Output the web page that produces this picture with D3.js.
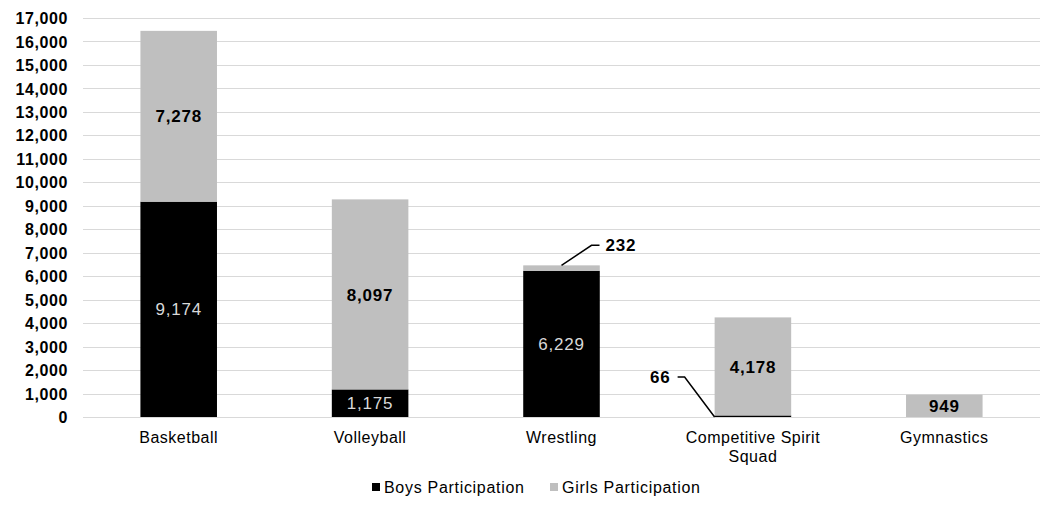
<!DOCTYPE html>
<html>
<head>
<meta charset="utf-8">
<script src="https://cdn.jsdelivr.net/npm/d3@7"></script>
<style>
  body { margin: 0; background: #fff; }
  svg text { font-family: "Liberation Sans", Arial, sans-serif; fill: #000; }
</style>
</head>
<body>
<svg width="1040" height="505"></svg>
<script>
const categories = ["Basketball", "Volleyball", "Wrestling", "Competitive Spirit Squad", "Gymnastics"];
const catLines = [["Basketball"], ["Volleyball"], ["Wrestling"], ["Competitive Spirit", "Squad"], ["Gymnastics"]];
const boys = [9174, 1175, 6229, 66, 0];
const girls = [7278, 8097, 232, 4178, 949];
const yTicks = d3.range(0, 17001, 1000);
const seriesNames = ["Boys Participation", "Girls Participation"];
const colors = ["#000000", "#bfbfbf"];

const svg = d3.select("svg");

const x = d3.scaleBand().domain(categories).range([83, 1040]).padding(0);
const y = d3.scaleLinear().domain([0, 17000]).range([417, 18]);
const barW = x.bandwidth() * 0.4;
const cx = d => x(d) + x.bandwidth() / 2;

// gridlines
svg.append("g").selectAll("line")
  .data(yTicks)
  .enter().append("line")
  .attr("x1", 83).attr("x2", 1040)
  .attr("y1", d => Math.round(y(d)) + 0.5)
  .attr("y2", d => Math.round(y(d)) + 0.5)
  .attr("stroke", "#d9d9d9")
  .attr("stroke-width", 1);

// y axis labels
const yAxis = d3.axisLeft(y).tickValues(yTicks).tickFormat(d3.format(",")).tickSize(0).tickPadding(0);
const ya = svg.append("g").attr("transform", "translate(68,0)").call(yAxis);
ya.select(".domain").remove();
ya.selectAll("text")
  .style("font-family", "Liberation Sans, Arial, sans-serif")
  .style("font-size", "16px")
  .style("font-weight", "bold")
  .style("letter-spacing", "0.6px")
  .attr("fill", "#000")
  .attr("dy", "0.35em");

// stacked data
const rows = categories.map((c, i) => ({ cat: c, boys: boys[i], girls: girls[i] }));
const stack = d3.stack().keys(["boys", "girls"])(rows);

svg.append("g").selectAll("g")
  .data(stack)
  .enter().append("g")
  .attr("fill", (d, i) => colors[i])
  .selectAll("rect")
  .data(d => d)
  .enter().append("rect")
  .attr("x", d => cx(d.data.cat) - barW / 2)
  .attr("width", barW)
  .attr("y", d => y(d[1]))
  .attr("height", d => Math.max(0, y(d[0]) - y(d[1])));

// inner value labels
const fmt = d3.format(",");
const inner = [];
stack.forEach((s, si) => {
  s.forEach(d => {
    const v = d[1] - d[0];
    const px = y(d[0]) - y(d[1]);
    if (v > 0 && px > 14) inner.push({ cat: d.data.cat, v, mid: (d[0] + d[1]) / 2, si });
  });
});

svg.append("g").selectAll("text")
  .data(inner)
  .enter().append("text")
  .attr("x", d => cx(d.cat))
  .attr("y", d => y(d.mid))
  .attr("dy", "0.36em")
  .attr("text-anchor", "middle")
  .style("font-size", "17px")
  .style("letter-spacing", "0.8px")
  .style("font-weight", d => d.si === 0 ? "normal" : "bold")
  .style("fill", d => d.si === 0 ? "#d9d9d9" : "#000")
  .text(d => fmt(d.v));

// callout labels for small segments
const wr = categories[2];
const wTop = { x: cx(wr), y: y(boys[2] + girls[2]) };
svg.append("path")
  .attr("d", `M${wTop.x},${wTop.y} L${wTop.x + 30},${wTop.y - 20} L${wTop.x + 38},${wTop.y - 20}`)
  .attr("fill", "none").attr("stroke", "#000").attr("stroke-width", 1.5);
svg.append("text")
  .attr("x", wTop.x + 44).attr("y", wTop.y - 20).attr("dy", "0.36em")
  .style("font-size", "17px").style("font-weight", "bold").style("letter-spacing", "0.8px")
  .text(fmt(girls[2]));

const sp = categories[3];
const sBot = { x: cx(sp) - barW / 2, y: y(boys[3]) };
svg.append("path")
  .attr("d", `M${sBot.x},${y(0)} L${sBot.x - 30},${y(0) - 40} L${sBot.x - 37},${y(0) - 40}`)
  .attr("fill", "none").attr("stroke", "#000").attr("stroke-width", 1.5);
svg.append("text")
  .attr("x", sBot.x - 44).attr("y", y(0) - 40).attr("dy", "0.36em")
  .attr("text-anchor", "end")
  .style("font-size", "17px").style("font-weight", "bold").style("letter-spacing", "0.8px")
  .text(fmt(boys[3]));

// category labels
const cg = svg.append("g").selectAll("text")
  .data(categories)
  .enter().append("text")
  .attr("x", d => cx(d))
  .attr("y", 443)
  .attr("text-anchor", "middle")
  .style("font-size", "16px")
  .style("letter-spacing", "0.5px");
cg.selectAll("tspan")
  .data((d, i) => catLines[i])
  .enter().append("tspan")
  .attr("x", function() { return d3.select(this.parentNode).attr("x"); })
  .attr("dy", (d, i) => i === 0 ? 0 : 19)
  .text(d => d);

// legend
const legend = svg.append("g").attr("transform", "translate(372,487)");
const lx = [0, 178];
seriesNames.forEach((n, i) => {
  const g = legend.append("g").attr("transform", `translate(${lx[i]},0)`);
  g.append("rect").attr("x", 0).attr("y", -4).attr("width", 8).attr("height", 8).attr("fill", colors[i]);
  g.append("text").attr("x", 12).attr("y", 0).attr("dy", "0.36em")
    .style("font-size", "16px").style("letter-spacing", "0.7px")
    .text(n);
});
</script>
</body>
</html>
